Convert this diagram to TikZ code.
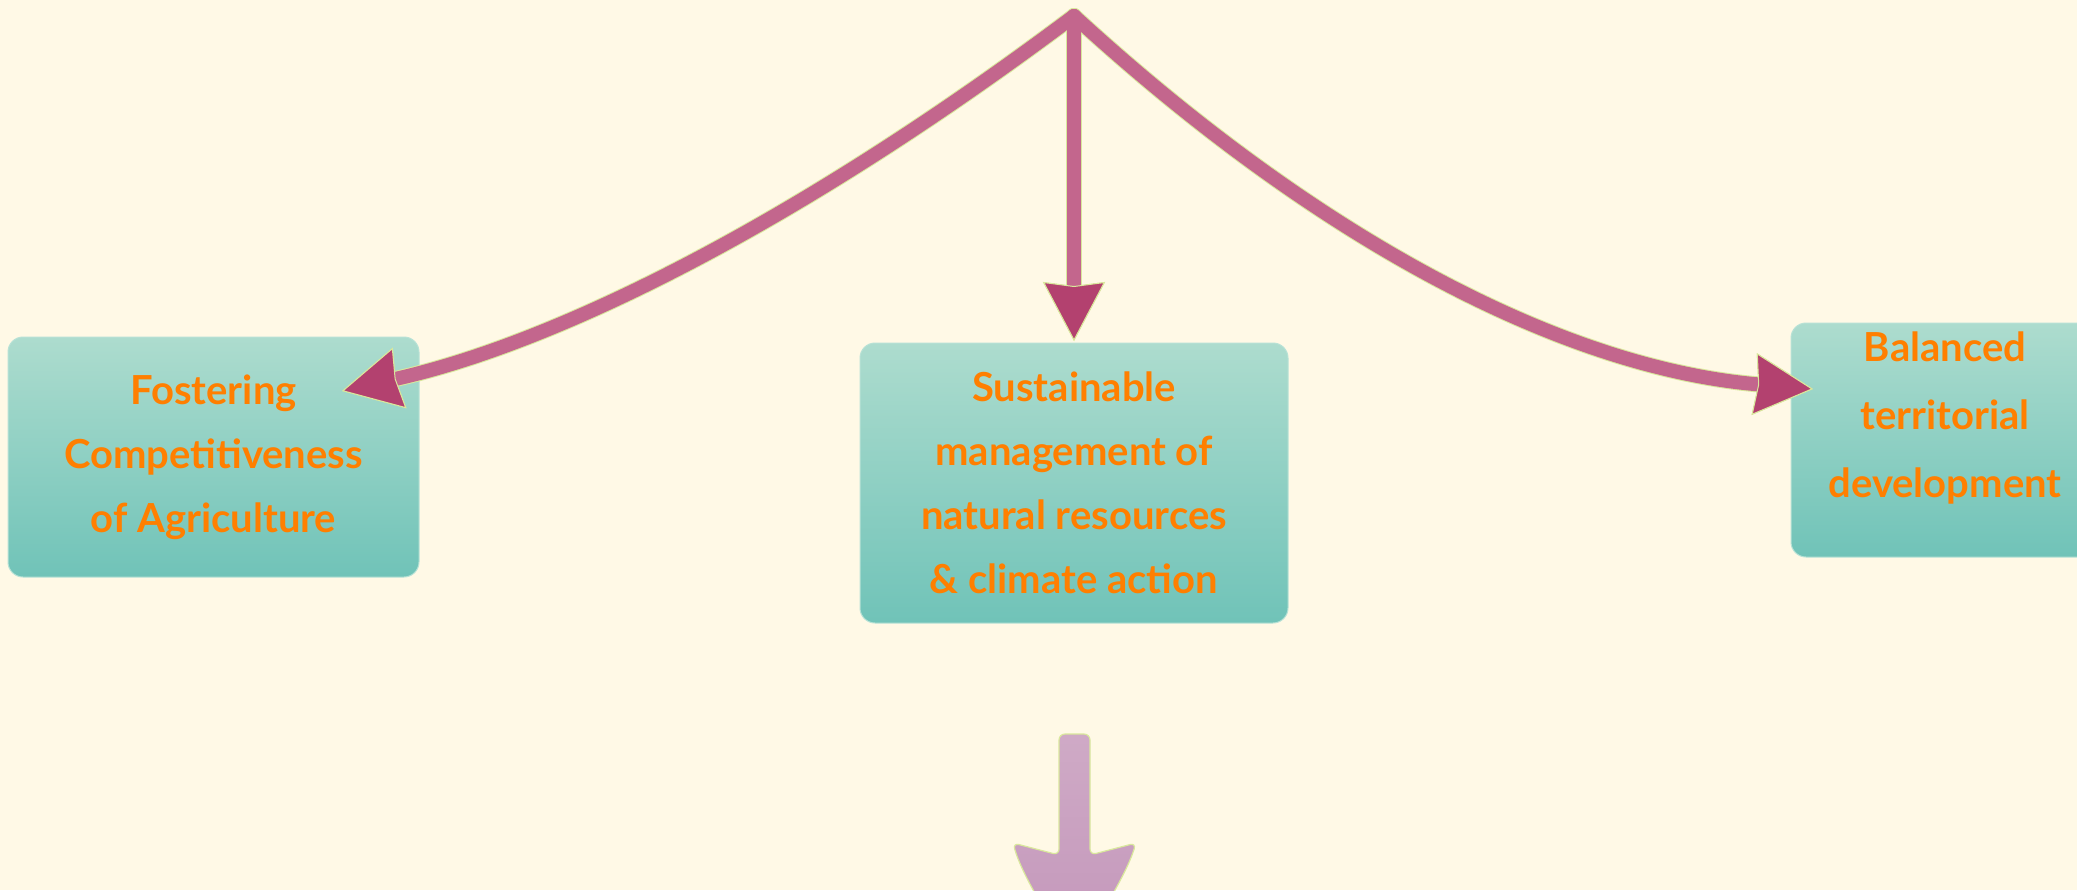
\documentclass[tikz,border=0pt]{standalone}
\usepackage{fontspec}
\setmainfont{Lato}
\usetikzlibrary{arrows.meta}
\definecolor{bg}{HTML}{FFF9E6}
\definecolor{boxtop}{HTML}{ADDCCE}
\definecolor{boxbot}{HTML}{70C3B8}
\definecolor{boxedge}{HTML}{B8E2D6}
\definecolor{txt}{HTML}{FF7F00}
\definecolor{linec}{HTML}{C3668D}
\definecolor{headc}{HTML}{B3416F}
\definecolor{outl}{HTML}{D9E89C}
\definecolor{blktop}{HTML}{CFAAC6}
\definecolor{blkbot}{HTML}{C396BA}
\begin{document}
\begin{tikzpicture}[x=0.5pt,y=-0.5pt,
  box/.style={rounded corners=7.5pt, top color=boxtop, bottom color=boxbot, draw=boxedge, line width=0.5pt, inner sep=0pt, text=txt, font=\fontsize{20}{32}\selectfont\bfseries, align=center},
  boxtext/.style={text=txt, font=\fontsize{20}{34}\selectfont\bfseries, align=center, inner sep=0pt},
  conn/.style={draw=linec, line width=7pt, line cap=round,
    -{Stealth[length=29.5pt, width=31pt, inset=2pt, fill=headc, color=outl, line width=0.5pt]}},
  connout/.style={draw=outl, line width=8pt, line cap=round,
    -{Stealth[length=29.5pt, width=31pt, inset=2pt, fill=outl, color=outl, line width=0.5pt]}}
]
\useasboundingbox (0,0) rectangle (2077,890);
\clip (0,0) rectangle (2077,890);
\fill[bg] (0,0) rectangle (2077,890);

% boxes
\node[box, minimum width=205.5pt, minimum height=120pt] (fost) at (213.5,457)
  {Fostering\\Competitiveness\\of Agriculture};
\node[box, minimum width=214pt, minimum height=140pt] (sust) at (1074,483)
  {Sustainable\\management of\\natural resources\\\& climate action};
\node[box, minimum width=154pt, minimum height=117pt] (bal) at (1945,440) {};
\node[boxtext] (baltext) at (1945,418) {Balanced\\territorial\\development};

% connectors
\coordinate (apex) at (1074,16);
\coordinate (tipL) at (342,391);
\coordinate (tipM) at (1074,341);
\coordinate (tipR) at (1813,389);

\draw[connout] (apex) .. controls (808.7,215) and (566.7,340.3) .. (tipL);
\draw[connout] (apex) .. controls (1322.3,243.7) and (1567,368.3) .. (tipR);
\draw[connout] (apex) -- (tipM);
\draw[conn] (apex) .. controls (808.7,215) and (566.7,340.3) .. (tipL);
\draw[conn] (apex) .. controls (1322.3,243.7) and (1567,368.3) .. (tipR);
\draw[conn] (apex) -- (tipM);

% bottom block arrow
\shadedraw[top color=blktop, bottom color=blkbot, draw=outl, line width=0.6pt, rounded corners=3pt]
  (1059,855) -- (1059,734) -- (1090,734) -- (1090,855) -- (1136,843)
  .. controls (1126,875) and (1098,920) .. (1074,955)
  .. controls (1050,920) and (1022,875) .. (1013,843) -- cycle;
\end{tikzpicture}
\end{document}
